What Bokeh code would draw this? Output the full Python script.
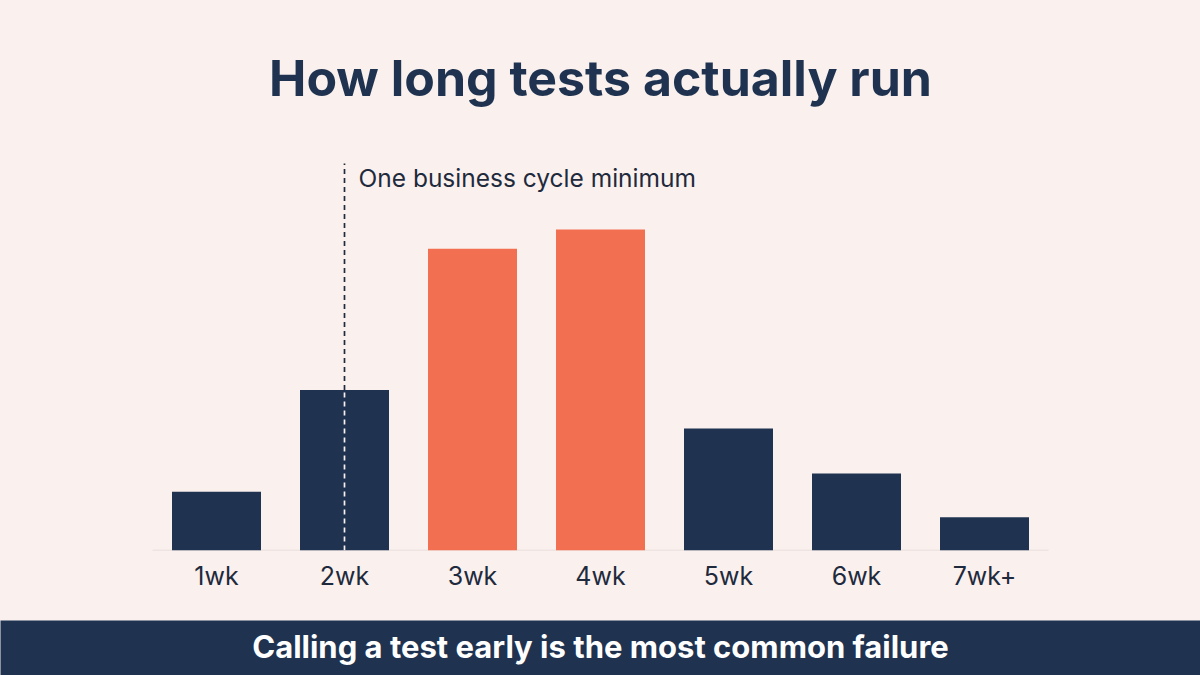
from bokeh.plotting import figure
from bokeh.models import FactorRange, Range1d, Label
from bokeh.layouts import column
from bokeh.core.properties import value
from bokeh.embed import file_html
from bokeh.resources import INLINE

# ---- data ----
categories = ["1wk", "2wk", "3wk", "4wk", "5wk", "6wk", "7wk+"]
share = [5.5, 15.0, 28.2, 30.0, 11.4, 7.2, 3.1]
highlighted = ["3wk", "4wk"]
marker_category = "2wk"
title_text = "How long tests actually run"
marker_text = "One business cycle minimum"
banner_text = "Calling a test early is the most common failure"

# ---- style ----
BG = "#faf1ee"
NAVY = "#1f3350"
ORANGE = "#f36f51"
TEXT = "#1f2a3d"
FONT = "Inter"

W = 1200
CHART_H = 620
BANNER_H = 55
FRAME_H = 550
PX_PER_UNIT = 10.7
STEP = 128  # px per category


def y_at(ref_px):
    # convert a vertical pixel position of the page to a data value
    return (FRAME_H - ref_px) / PX_PER_UNIT


colors = [ORANGE if c in highlighted else NAVY for c in categories]
pad = (W / STEP - len(categories)) / 2

chart = figure(
    width=W, height=CHART_H,
    x_range=FactorRange(*categories, range_padding=pad, range_padding_units="absolute"),
    y_range=Range1d(0, FRAME_H / PX_PER_UNIT),
    output_backend="svg", toolbar_location=None,
    y_axis_location=None,
    min_border_left=0, min_border_right=0, min_border_top=0,
    min_border_bottom=CHART_H - FRAME_H,
)
chart.background_fill_color = BG
chart.border_fill_color = BG
chart.outline_line_color = None
chart.grid.visible = False

# baseline
chart.segment(x0=[0], x1=[len(categories)], y0=[0], y1=[0],
              line_color="#e2d9d5", line_width=1.5)

chart.vbar(x=categories, top=share, width=89 / STEP, fill_color=colors, line_color=None)

# dashed marker line
mv = share[categories.index(marker_category)]
chart.segment(x0=[marker_category], x1=[marker_category], y0=[mv], y1=[y_at(163)],
              line_color=TEXT, line_width=1.7, line_dash="5 4")
chart.segment(x0=[marker_category], x1=[marker_category], y0=[0], y1=[mv],
              line_color=BG, line_width=1.7, line_dash="5 4")

chart.add_layout(Label(
    x=categories.index(marker_category) + 0.5, x_offset=14, y=y_at(177),
    text=marker_text, text_font=FONT, text_font_size="24.5px", text_color=TEXT,
    text_baseline="middle", text_align="left"))

chart.add_layout(Label(
    x=len(categories) / 2, y=y_at(77),
    text=title_text, text_font=FONT, text_font_size="50px", text_font_style="bold",
    text_color=NAVY, text_baseline="middle", text_align="center"))

ax = chart.xaxis[0]
ax.axis_line_color = None
ax.major_tick_line_color = None
ax.minor_tick_line_color = None
ax.major_tick_out = 0
ax.major_label_standoff = 10
ax.major_label_text_font = FONT
ax.major_label_text_font_size = "25px"
ax.major_label_text_color = TEXT

banner = figure(
    width=W, height=BANNER_H,
    x_range=Range1d(0, 1), y_range=Range1d(0, 1),
    output_backend="svg", toolbar_location=None,
    x_axis_location=None, y_axis_location=None,
    min_border=0,
)
banner.background_fill_color = NAVY
banner.border_fill_color = NAVY
banner.outline_line_color = None
banner.grid.visible = False
banner.text(x=[0.5], y=[1 - 26 / BANNER_H], text=[banner_text], text_font=value(FONT),
            text_font_size="31px", text_font_style="bold", text_color="white",
            text_align="center", text_baseline="middle")

p = column(chart, banner, spacing=0)

try:
    from bokeh.models import GlobalInlineStyleSheet
    chart.stylesheets = [GlobalInlineStyleSheet(css="body{background:%s;}" % BG)]
except Exception:
    pass

open("out.html", "w").write(file_html(p, INLINE))
